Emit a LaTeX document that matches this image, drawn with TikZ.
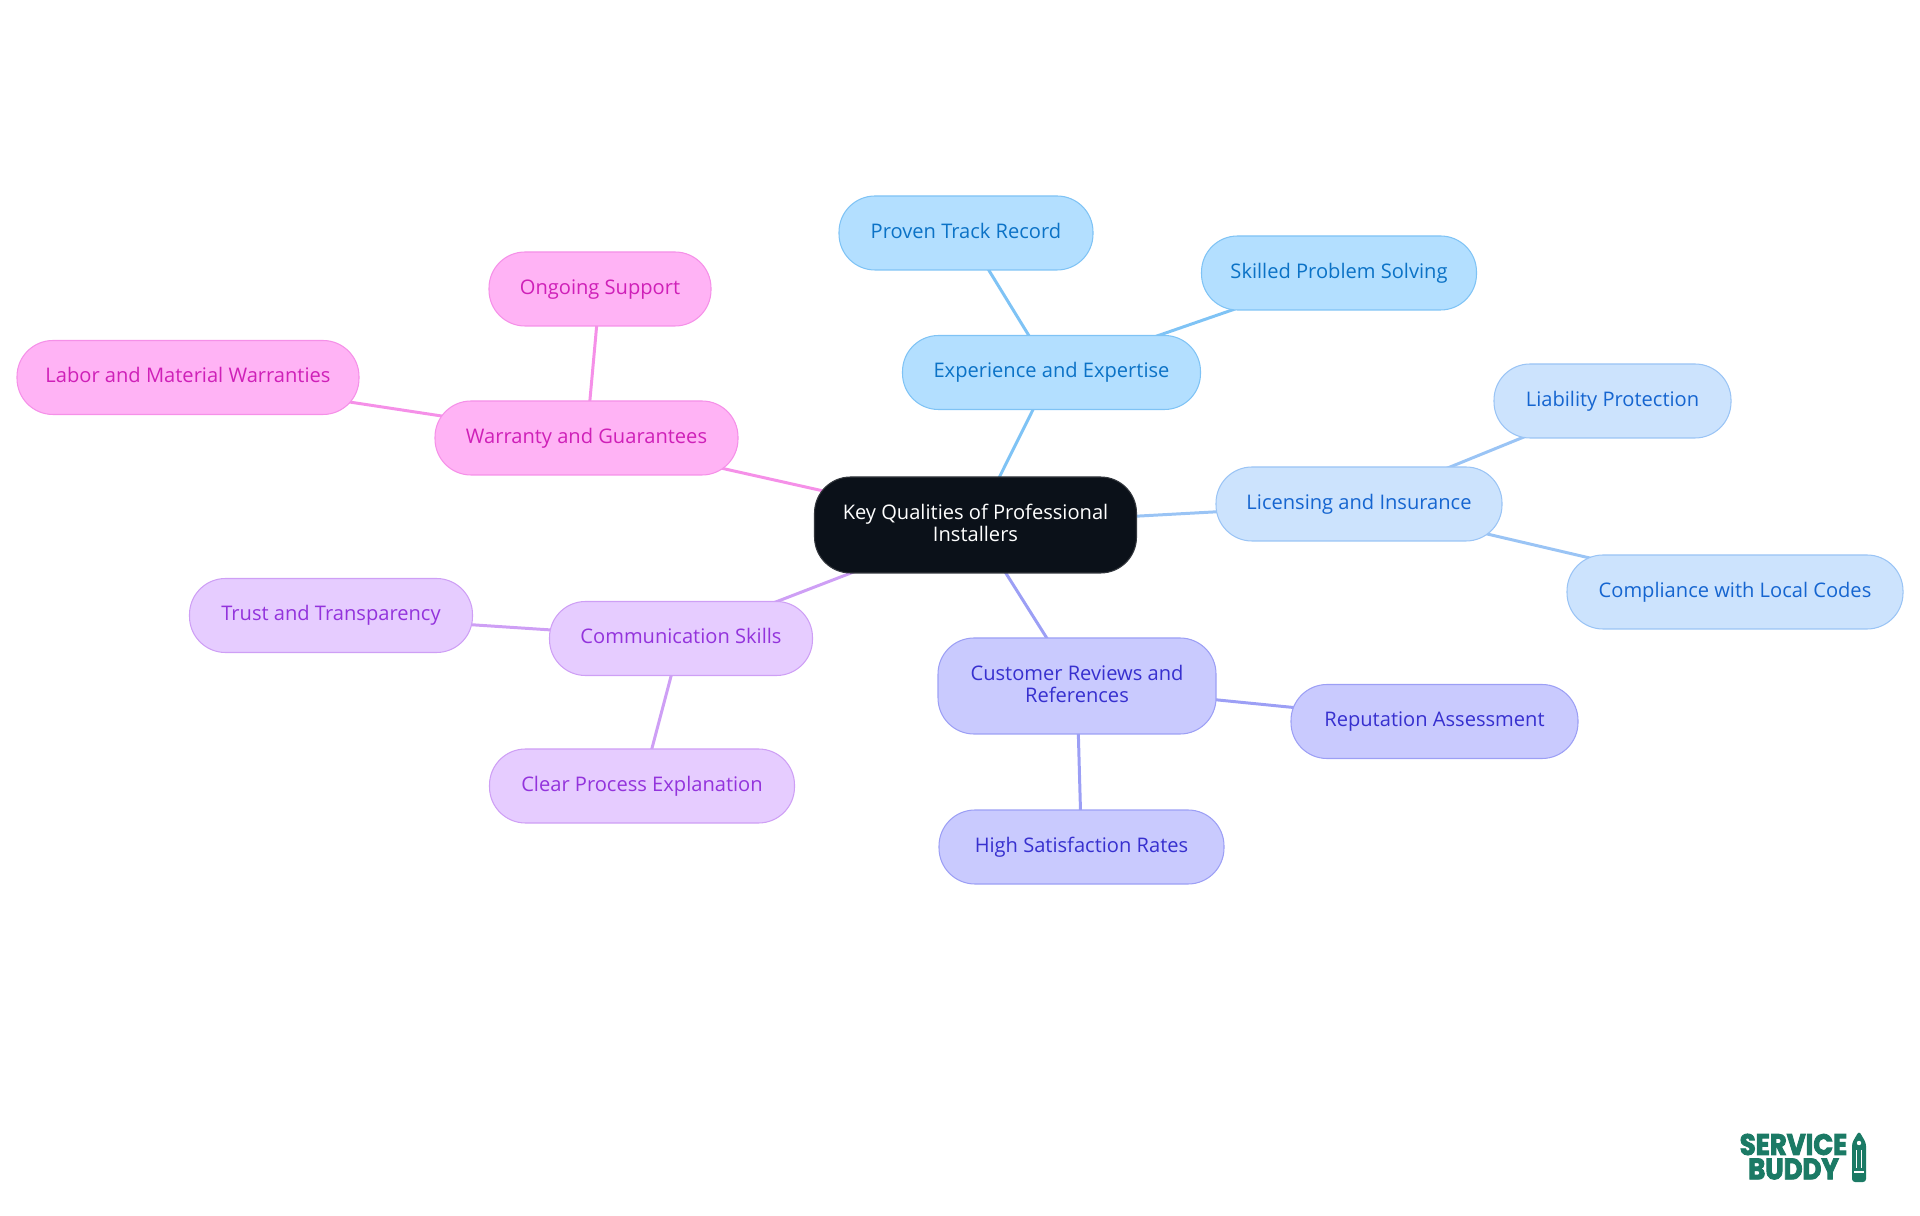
\documentclass[tikz,border=0pt]{standalone}
\usepackage{fontspec}
\setmainfont{Open Sans}
\newfontfamily\logofont[FakeBold=3,FakeStretch=0.88]{Poppins Bold}
\usetikzlibrary{backgrounds}
\definecolor{RootFill}{HTML}{0B1119}
\definecolor{RootLine}{HTML}{33373D}
\definecolor{ExpFill}{HTML}{B3DFFF}
\definecolor{ExpLine}{HTML}{7FC3F5}
\definecolor{ExpText}{HTML}{0B72C6}
\definecolor{LicFill}{HTML}{CCE3FD}
\definecolor{LicLine}{HTML}{9AC4F5}
\definecolor{LicText}{HTML}{1565D0}
\definecolor{CustFill}{HTML}{C9CAFE}
\definecolor{CustLine}{HTML}{9C9FF5}
\definecolor{CustText}{HTML}{3730CF}
\definecolor{CommFill}{HTML}{E6CCFF}
\definecolor{CommLine}{HTML}{CE9FF5}
\definecolor{CommText}{HTML}{9333DC}
\definecolor{WarFill}{HTML}{FFB3F5}
\definecolor{WarLine}{HTML}{F590E8}
\definecolor{WarText}{HTML}{CF20B8}
\definecolor{LogoGreen}{HTML}{1B7A65}
\tikzset{
    mapbox/.style={rectangle, rounded corners=0.36cm, line width=0.3pt, inner sep=0pt, align=center,
        font=\fontsize{5.72}{6.25}\selectfont, execute at begin node=\vphantom{kg}},
    twoline/.style={execute at end node=\rule[-0.7pt]{0pt}{0pt}},
    rootbox/.style={mapbox, fill=RootFill, draw=RootLine, text=white},
    expbox/.style={mapbox, fill=ExpFill, draw=ExpLine, text=ExpText},
    licbox/.style={mapbox, fill=LicFill, draw=LicLine, text=LicText},
    custbox/.style={mapbox, fill=CustFill, draw=CustLine, text=CustText},
    commbox/.style={mapbox, fill=CommFill, draw=CommLine, text=CommText},
    warbox/.style={mapbox, fill=WarFill, draw=WarLine, text=WarText},
    maplink/.style={line width=0.85pt},
    logotext/.style={font=\logofont\fontsize{8.4}{8.4}\selectfont, text=LogoGreen, inner sep=0pt}
}

\begin{document}
\begin{tikzpicture}
    \useasboundingbox (0,0) rectangle (19.2,12.15);

    % Center node
    \node[rootbox, minimum width=3.22cm, minimum height=0.96cm] (Root) at (9.755,6.9) {Key Qualities of Professional\\Installers};

    % Experience branch
    \node[expbox, minimum width=2.98cm, minimum height=0.74cm] (Experience) at (10.515,8.425) {Experience and Expertise};
    \node[expbox, minimum width=2.54cm, minimum height=0.74cm] (Proven) at (9.66,9.82) {Proven Track Record};
    \node[expbox, minimum width=2.75cm, minimum height=0.74cm] (Skilled) at (13.39,9.42) {Skilled Problem Solving};

    % Licensing branch
    \node[licbox, minimum width=2.86cm, minimum height=0.74cm] (Licensing) at (13.59,7.11) {Licensing and Insurance};
    \node[licbox, minimum width=2.37cm, minimum height=0.74cm] (Liability) at (16.125,8.14) {Liability Protection};
    \node[licbox, minimum width=3.36cm, minimum height=0.74cm] (Compliance) at (17.35,6.23) {Compliance with Local Codes};

    % Customer branch
    \node[custbox, minimum width=2.78cm, minimum height=0.96cm] (Customer) at (10.77,5.29) {Customer Reviews and\\References};
    \node[custbox, minimum width=2.87cm, minimum height=0.74cm] (Reputation) at (14.345,4.935) {Reputation Assessment};
    \node[custbox, minimum width=2.85cm, minimum height=0.74cm] (HighRates) at (10.815,3.68) {High Satisfaction Rates};

    % Communication branch
    \node[commbox, minimum width=2.63cm, minimum height=0.74cm] (Communication) at (6.81,5.765) {Communication Skills};
    \node[commbox, minimum width=2.83cm, minimum height=0.74cm] (Trust) at (3.31,5.995) {Trust and Transparency};
    \node[commbox, minimum width=3.05cm, minimum height=0.74cm] (ClearProcess) at (6.42,4.29) {Clear Process Explanation};

    % Warranty branch
    \node[warbox, minimum width=3.03cm, minimum height=0.74cm] (Warranty) at (5.865,7.77) {Warranty and Guarantees};
    \node[warbox, minimum width=2.22cm, minimum height=0.74cm] (Ongoing) at (6.0,9.26) {Ongoing Support};
    \node[warbox, minimum width=3.42cm, minimum height=0.74cm] (Labor) at (1.88,8.375) {Labor and Material Warranties};

    % Connectors behind the boxes
    \begin{scope}[on background layer]
        \draw[maplink, ExpLine] (Root.center) -- (Experience.center);
        \draw[maplink, ExpLine] (Experience.center) -- (Proven.center);
        \draw[maplink, ExpLine] (Experience.center) -- (Skilled.center);
        \draw[maplink, LicLine] (Root.center) -- (Licensing.center);
        \draw[maplink, LicLine] (Licensing.center) -- (Liability.center);
        \draw[maplink, LicLine] (Licensing.center) -- (Compliance.center);
        \draw[maplink, CustLine] (Root.center) -- (Customer.center);
        \draw[maplink, CustLine] (Customer.center) -- (Reputation.center);
        \draw[maplink, CustLine] (Customer.center) -- (HighRates.center);
        \draw[maplink, CommLine] (Root.center) -- (Communication.center);
        \draw[maplink, CommLine] (Communication.center) -- (Trust.center);
        \draw[maplink, CommLine] (Communication.center) -- (ClearProcess.center);
        \draw[maplink, WarLine] (Root.center) -- (Warranty.center);
        \draw[maplink, WarLine] (Warranty.center) -- (Ongoing.center);
        \draw[maplink, WarLine] (Warranty.center) -- (Labor.center);
    \end{scope}

    % Logo
    \node[logotext] (LogoTop) at (17.935,0.705) {SERVICE};
    \node[logotext] (LogoBottom) at (17.935,0.46) {BUDDY};
    \fill[LogoGreen, rounded corners=0.03cm] (18.59,0.84) -- (18.66,0.72) -- (18.66,0.33) -- (18.52,0.33) -- (18.52,0.72) -- cycle;
    \fill[white] (18.59,0.72) circle (0.022);
    \draw[white, line width=0.25pt] (18.565,0.65) -- (18.565,0.47);
    \draw[white, line width=0.25pt] (18.615,0.65) -- (18.615,0.47);
    \draw[white, line width=0.3pt] (18.54,0.43) -- (18.64,0.43);
\end{tikzpicture}
\end{document}
